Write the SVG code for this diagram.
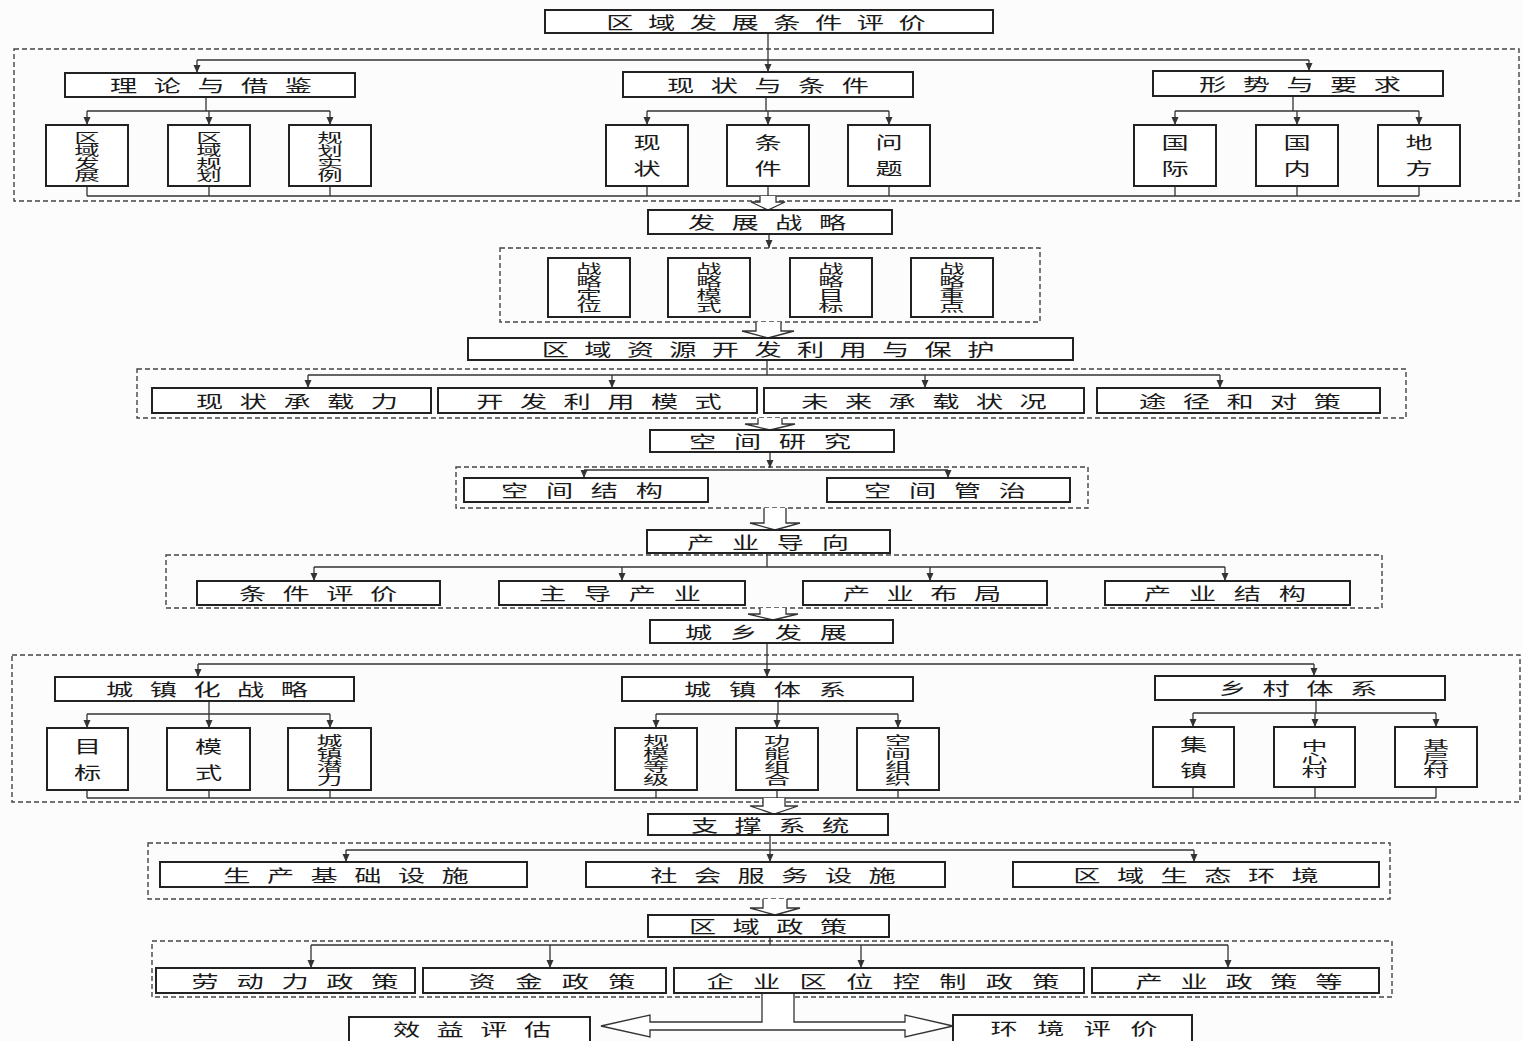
<svg xmlns="http://www.w3.org/2000/svg" width="1522" height="1041" viewBox="0 0 1522 1041">
<defs>
<marker id="ah" markerUnits="userSpaceOnUse" markerWidth="8" markerHeight="8" refX="8" refY="3.5" orient="auto"><path d="M0,0 L8,3.5 L0,7 z" fill="#333"/></marker>
<style>
text{font-family:"Noto Sans CJK SC","Noto Sans",sans-serif;fill:#1a1a1a;text-anchor:middle;dominant-baseline:central}
.h{font-size:17px}
.s10{letter-spacing:9.1px}
.s11{letter-spacing:10.3px}
.s12{letter-spacing:11.1px}
.s13{letter-spacing:12.1px}
.v4{font-size:12.7px;writing-mode:vertical-rl}
.v3{font-size:13px;writing-mode:vertical-rl}
.v2{font-size:17px;writing-mode:vertical-rl;letter-spacing:9px}
.box{fill:#fff;stroke:#222;stroke-width:2}
.dash{fill:none;stroke:#444;stroke-width:1.4;stroke-dasharray:5,3}
.ln{fill:none;stroke:#333;stroke-width:1.3}
.ar{fill:none;stroke:#333;stroke-width:1.3;marker-end:url(#ah)}
.ha{fill:#fff;stroke:#333;stroke-width:1.3}
</style>
</defs>
<rect width="1522" height="1041" fill="#fcfcfc"/>

<g id="groups">
<rect class="dash" x="14" y="49" width="1505" height="152"/>
<rect class="dash" x="500" y="248" width="540" height="74"/>
<rect class="dash" x="137" y="369" width="1269" height="49"/>
<rect class="dash" x="456" y="467" width="632" height="41"/>
<rect class="dash" x="166" y="555" width="1216" height="53"/>
<rect class="dash" x="12" y="655" width="1508" height="147"/>
<rect class="dash" x="148" y="843" width="1242" height="56"/>
<rect class="dash" x="152" y="941" width="1240" height="56"/>
</g>

<g id="connectors">
<path class="ar" d="M768,33 V72"/>
<path class="ln" d="M197,60 H1309"/>
<path class="ar" d="M197,60 V73"/>
<path class="ar" d="M1309,60 V71"/>
<path class="ln" d="M206,97 V111 M87,111 H330"/>
<path class="ar" d="M87,111 V125"/><path class="ar" d="M209,111 V125"/><path class="ar" d="M330,111 V125"/>
<path class="ln" d="M766,97 V111 M647,111 H889"/>
<path class="ar" d="M647,111 V125"/><path class="ar" d="M768,111 V125"/><path class="ar" d="M889,111 V125"/>
<path class="ln" d="M1293,96 V111 M1175,111 H1419"/>
<path class="ar" d="M1175,111 V125"/><path class="ar" d="M1297,111 V125"/><path class="ar" d="M1419,111 V125"/>
<path class="ln" d="M87,186 V196 M209,186 V196 M330,186 V196 M647,186 V196 M768,186 V196 M889,186 V196 M1175,186 V196 M1297,186 V196 M1419,186 V196 M87,196 H1419"/>
<path class="ha" d="M760,196 V202 H751 L768,210 L785,202 H776 V196"/>
<path class="ar" d="M769,234 V248"/>
<path class="ha" d="M756,322 V331 H742 L768,338 L794,331 H781 V322"/>
<path class="ln" d="M767,360 V375 M308,375 H1220"/>
<path class="ar" d="M308,375 V388"/><path class="ar" d="M612,375 V388"/><path class="ar" d="M925,375 V388"/><path class="ar" d="M1220,375 V388"/>
<path class="ha" d="M758,418 V424 H745 L770,430 L795,424 H782 V418"/>
<path class="ar" d="M770,452 V468"/>
<path class="ln" d="M584,470 H948"/>
<path class="ar" d="M584,470 V478"/><path class="ar" d="M948,470 V478"/>
<path class="ha" d="M764,508 V523 H750 L775,530 L800,523 H786 V508"/>
<path class="ln" d="M767,553 V567 M314,567 H1225"/>
<path class="ar" d="M314,567 V581"/><path class="ar" d="M622,567 V581"/><path class="ar" d="M930,567 V581"/><path class="ar" d="M1225,567 V581"/>
<path class="ha" d="M760,608 V614 H748 L773,620 L798,614 H786 V608"/>
<path class="ar" d="M767,643 V677"/>
<path class="ln" d="M198,664 H1314"/>
<path class="ar" d="M198,664 V677"/><path class="ar" d="M1314,664 V676"/>
<path class="ln" d="M209,701 V714 M87,714 H330"/>
<path class="ar" d="M87,714 V728"/><path class="ar" d="M209,714 V728"/><path class="ar" d="M330,714 V728"/>
<path class="ln" d="M778,701 V714 M656,714 H898"/>
<path class="ar" d="M656,714 V728"/><path class="ar" d="M777,714 V728"/><path class="ar" d="M898,714 V728"/>
<path class="ln" d="M1316,700 V713 M1193,713 H1436"/>
<path class="ar" d="M1193,713 V727"/><path class="ar" d="M1315,713 V727"/><path class="ar" d="M1436,713 V727"/>
<path class="ln" d="M87,790 V798 M209,790 V798 M330,790 V798 M656,790 V798 M777,790 V798 M898,790 V798 M1193,787 V798 M1315,787 V798 M1436,787 V798 M87,798 H1436"/>
<path class="ha" d="M763,798 V806 H750 L774,814 L798,806 H785 V798"/>
<path class="ar" d="M770,835 V862"/>
<path class="ln" d="M346,850 H1194"/>
<path class="ar" d="M346,850 V862"/><path class="ar" d="M1194,850 V862"/>
<path class="ha" d="M763,899 V908 H750 L775,915 L800,908 H787 V899"/>
<path class="ln" d="M770,937 V945 M311,945 H1228"/>
<path class="ar" d="M311,945 V968"/><path class="ar" d="M550,945 V968"/><path class="ar" d="M861,945 V968"/><path class="ar" d="M1228,945 V968"/>
<path class="ha" d="M762,993 V1022 H650 V1015 L601,1026 L650,1037 V1030 H905 V1037 L953,1026 L905,1015 V1022 H794 V993"/>
</g>

<g id="n-top"><rect class="box" x="545" y="10" width="448" height="23"/><text class="h s10" transform="translate(766,21.5) scale(1.6,1)" x="4.55">区域发展条件评价</text></g>

<g id="n-lilun"><rect class="box" x="65" y="73" width="290" height="24"/><text class="h s11" transform="translate(211,85) scale(1.6,1)" x="5.15">理论与借鉴</text></g>
<g id="n-xianzhuang"><rect class="box" x="623" y="72" width="290" height="25"/><text class="h s11" transform="translate(768,84.5) scale(1.6,1)" x="5.15">现状与条件</text></g>
<g id="n-xingshi"><rect class="box" x="1153" y="71" width="290" height="25"/><text class="h s11" transform="translate(1300,83.5) scale(1.6,1)" x="5.15">形势与要求</text></g>

<g id="n-qyfz"><rect class="box" x="46" y="125" width="82" height="61"/><text class="v4" transform="translate(87,156.5) scale(2,1)">区域发展</text></g>
<g id="n-qygh"><rect class="box" x="168" y="125" width="82" height="61"/><text class="v4" transform="translate(209,156.5) scale(2,1)">区域规划</text></g>
<g id="n-ghsl"><rect class="box" x="289" y="125" width="82" height="61"/><text class="v4" transform="translate(330,156.5) scale(2,1)">规划实例</text></g>

<g id="n-xz"><rect class="box" x="606" y="125" width="82" height="61"/><text class="v2" transform="translate(647,156) scale(1.6,1)" y="4.5">现状</text></g>
<g id="n-tj"><rect class="box" x="727" y="125" width="82" height="61"/><text class="v2" transform="translate(768,156) scale(1.6,1)" y="4.5">条件</text></g>
<g id="n-wt"><rect class="box" x="848" y="125" width="82" height="61"/><text class="v2" transform="translate(889,156) scale(1.6,1)" y="4.5">问题</text></g>

<g id="n-gj"><rect class="box" x="1134" y="125" width="82" height="61"/><text class="v2" transform="translate(1175,156) scale(1.6,1)" y="4.5">国际</text></g>
<g id="n-gn"><rect class="box" x="1256" y="125" width="82" height="61"/><text class="v2" transform="translate(1297,156) scale(1.6,1)" y="4.5">国内</text></g>
<g id="n-df"><rect class="box" x="1378" y="125" width="82" height="61"/><text class="v2" transform="translate(1419,156) scale(1.6,1)" y="4.5">地方</text></g>

<g id="n-fzzl"><rect class="box" x="648" y="210" width="244" height="24"/><text class="h s11" transform="translate(767,222) scale(1.6,1)" x="5.15">发展战略</text></g>

<g id="n-zldw"><rect class="box" x="548" y="258" width="82" height="59"/><text class="v4" transform="translate(589,287.5) scale(2,1)">战略定位</text></g>
<g id="n-zlms"><rect class="box" x="668" y="258" width="82" height="59"/><text class="v4" transform="translate(709,287.5) scale(2,1)">战略模式</text></g>
<g id="n-zlmb"><rect class="box" x="790" y="258" width="82" height="59"/><text class="v4" transform="translate(831,287.5) scale(2,1)">战略目标</text></g>
<g id="n-zlzd"><rect class="box" x="911" y="258" width="82" height="59"/><text class="v4" transform="translate(952,287.5) scale(2,1)">战略重点</text></g>

<g id="n-zy"><rect class="box" x="468" y="338" width="605" height="22"/><text class="h" style="letter-spacing:9.6px" transform="translate(768,349) scale(1.6,1)" x="4.8">区域资源开发利用与保护</text></g>

<g id="n-xzczl"><rect class="box" x="152" y="388" width="279" height="25"/><text class="h s11" transform="translate(297,400.5) scale(1.6,1)" x="5.15">现状承载力</text></g>
<g id="n-kfly"><rect class="box" x="438" y="388" width="319" height="25"/><text class="h s11" transform="translate(599,400.5) scale(1.6,1)" x="5.15">开发利用模式</text></g>
<g id="n-wlcz"><rect class="box" x="764" y="388" width="320" height="25"/><text class="h s11" transform="translate(924,400.5) scale(1.6,1)" x="5.15">未来承载状况</text></g>
<g id="n-tjdc"><rect class="box" x="1097" y="388" width="283" height="25"/><text class="h s11" transform="translate(1240,400.5) scale(1.6,1)" x="5.15">途径和对策</text></g>

<g id="n-kjyj"><rect class="box" x="650" y="430" width="244" height="22"/><text class="h s12" transform="translate(770,441) scale(1.6,1)" x="5.55">空间研究</text></g>
<g id="n-kjjg"><rect class="box" x="464" y="478" width="244" height="24"/><text class="h s12" transform="translate(582,490) scale(1.6,1)" x="5.55">空间结构</text></g>
<g id="n-kjgz"><rect class="box" x="827" y="478" width="243" height="24"/><text class="h s12" transform="translate(945,490) scale(1.6,1)" x="5.55">空间管治</text></g>

<g id="n-cydx"><rect class="box" x="647" y="530" width="243" height="23"/><text class="h s12" transform="translate(768,541.5) scale(1.6,1)" x="5.55">产业导向</text></g>
<g id="n-tjpj"><rect class="box" x="197" y="581" width="243" height="24"/><text class="h s11" transform="translate(318,593) scale(1.6,1)" x="5.15">条件评价</text></g>
<g id="n-zdcy"><rect class="box" x="499" y="581" width="246" height="24"/><text class="h s12" transform="translate(620,593) scale(1.6,1)" x="5.55">主导产业</text></g>
<g id="n-cybj"><rect class="box" x="803" y="581" width="244" height="24"/><text class="h s11" transform="translate(922,593) scale(1.6,1)" x="5.15">产业布局</text></g>
<g id="n-cyjg"><rect class="box" x="1105" y="581" width="245" height="24"/><text class="h s12" transform="translate(1225,593) scale(1.6,1)" x="5.55">产业结构</text></g>

<g id="n-cxfz"><rect class="box" x="650" y="620" width="243" height="23"/><text class="h s12" transform="translate(766,631.5) scale(1.6,1)" x="5.55">城乡发展</text></g>

<g id="n-czhzl"><rect class="box" x="55" y="677" width="299" height="24"/><text class="h s11" transform="translate(207,689) scale(1.6,1)" x="5.15">城镇化战略</text></g>
<g id="n-cztx"><rect class="box" x="622" y="677" width="291" height="24"/><text class="h s12" transform="translate(765,689) scale(1.6,1)" x="5.55">城镇体系</text></g>
<g id="n-xctx"><rect class="box" x="1155" y="676" width="290" height="24"/><text class="h s11" transform="translate(1298,688) scale(1.6,1)" x="5.15">乡村体系</text></g>

<g id="n-mb"><rect class="box" x="47" y="728" width="81" height="62"/><text class="v2" transform="translate(87.5,759.5) scale(1.6,1)" y="4.5">目标</text></g>
<g id="n-ms"><rect class="box" x="167" y="728" width="83" height="62"/><text class="v2" transform="translate(208.5,759.5) scale(1.6,1)" y="4.5">模式</text></g>
<g id="n-czql"><rect class="box" x="288" y="728" width="83" height="62"/><text class="v3" transform="translate(329.5,759.5) scale(2,1)">城镇潜力</text></g>

<g id="n-gmdj"><rect class="box" x="615" y="728" width="82" height="62"/><text class="v3" transform="translate(656,759.5) scale(2,1)">规模等级</text></g>
<g id="n-gnzh"><rect class="box" x="736" y="728" width="82" height="62"/><text class="v3" transform="translate(777,759.5) scale(2,1)">功能组合</text></g>
<g id="n-kjzz"><rect class="box" x="857" y="728" width="82" height="62"/><text class="v3" transform="translate(898,759.5) scale(2,1)">空间组织</text></g>

<g id="n-jz"><rect class="box" x="1153" y="727" width="81" height="60"/><text class="v2" transform="translate(1193.5,758) scale(1.6,1)" y="4.5">集镇</text></g>
<g id="n-zxc"><rect class="box" x="1274" y="727" width="81" height="60"/><text class="v3" transform="translate(1314.5,758) scale(2,1)">中心村</text></g>
<g id="n-jcc"><rect class="box" x="1395" y="727" width="82" height="60"/><text class="v3" transform="translate(1436,758) scale(2,1)">基层村</text></g>

<g id="n-zcxt"><rect class="box" x="648" y="814" width="240" height="21"/><text class="h s11" transform="translate(770,824.5) scale(1.6,1)" x="5.15">支撑系统</text></g>
<g id="n-scjc"><rect class="box" x="160" y="862" width="367" height="25"/><text class="h s11" transform="translate(346,874.5) scale(1.6,1)" x="5.15">生产基础设施</text></g>
<g id="n-shfw"><rect class="box" x="586" y="862" width="359" height="25"/><text class="h s11" transform="translate(773,874.5) scale(1.6,1)" x="5.15">社会服务设施</text></g>
<g id="n-sthj"><rect class="box" x="1013" y="862" width="366" height="25"/><text class="h s11" transform="translate(1196,874.5) scale(1.6,1)" x="5.15">区域生态环境</text></g>

<g id="n-qyzc"><rect class="box" x="648" y="915" width="241" height="22"/><text class="h s11" transform="translate(768,926) scale(1.6,1)" x="5.15">区域政策</text></g>
<g id="n-ldl"><rect class="box" x="156" y="968" width="259" height="25"/><text class="h s12" transform="translate(295,980.5) scale(1.6,1)" x="5.55">劳动力政策</text></g>
<g id="n-zj"><rect class="box" x="423" y="968" width="243" height="25"/><text class="h s13" transform="translate(552,980.5) scale(1.6,1)" x="6.05">资金政策</text></g>
<g id="n-qyqw"><rect class="box" x="674" y="968" width="410" height="25"/><text class="h s13" transform="translate(883,980.5) scale(1.6,1)" x="6.05">企业区位控制政策</text></g>
<g id="n-cyzc"><rect class="box" x="1092" y="968" width="287" height="25"/><text class="h s12" transform="translate(1239,980.5) scale(1.6,1)" x="5.55">产业政策等</text></g>

<g id="n-xypg"><rect class="box" x="349" y="1017" width="241" height="32"/><text class="h s11" transform="translate(472,1029) scale(1.6,1)" x="5.15">效益评估</text></g>
<g id="n-hjpj"><rect class="box" x="953" y="1015" width="239" height="34"/><text class="h s13" transform="translate(1074,1028) scale(1.6,1)" x="6.05">环境评价</text></g>
</svg>
